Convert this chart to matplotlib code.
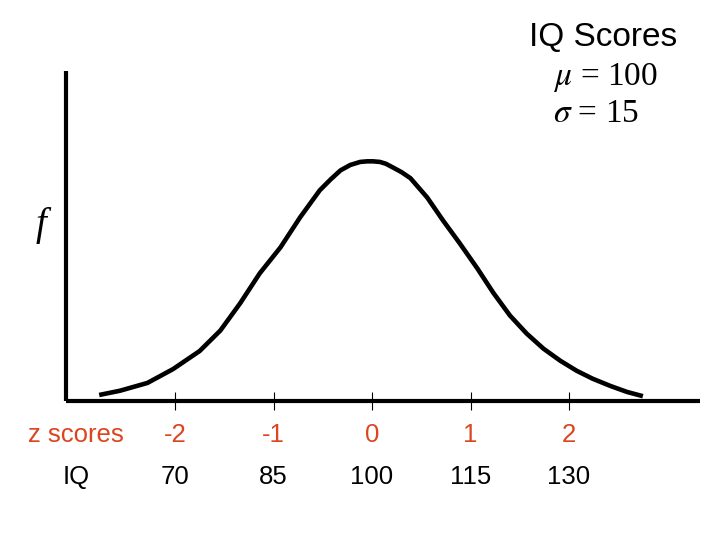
import matplotlib
matplotlib.use("Agg")
import matplotlib.pyplot as plt

plt.rcParams['font.family'] = ['Liberation Sans', 'DejaVu Sans']
plt.rcParams['mathtext.fontset'] = 'stix'

# curve: z position and relative height
z_vals = [-2.77, -2.56, -2.28, -2.02, -1.75, -1.54, -1.34, -1.14, -0.93, -0.73,
          -0.53, -0.42, -0.32, -0.22, -0.12, -0.05, 0.01, 0.08, 0.14, 0.21,
          0.30, 0.39, 0.56, 0.72, 0.89, 1.07,
          1.23, 1.40, 1.57, 1.74, 1.91, 2.08, 2.24, 2.42, 2.59, 2.75]
f_vals = [0.010, 0.017, 0.030, 0.053, 0.083, 0.117, 0.162, 0.212, 0.255, 0.305,
          0.350, 0.368, 0.383, 0.392, 0.397, 0.398, 0.398, 0.397, 0.394, 0.388,
          0.380, 0.370, 0.338, 0.300, 0.262, 0.220,
          0.180, 0.142, 0.112, 0.087, 0.067, 0.050, 0.037, 0.025, 0.015, 0.008]

z_ticks = [-2, -1, 0, 1, 2]
z_labels = ['-2', '-1', '0', '1', '2']
iq_labels = ['70', '85', '100', '115', '130']

red = '#DB4520'

fig = plt.figure(figsize=(7.2, 5.4), dpi=100)
ax = fig.add_axes([66 / 720, 1 - 401 / 540, 634 / 720, 330 / 540])

ax.plot(z_vals, f_vals, color='black', linewidth=3.3,
        solid_joinstyle='round', solid_capstyle='butt')

ax.set_xlim(-3.107, 3.33)
ax.set_ylim(0, 0.548)

for side in ['top', 'right']:
    ax.spines[side].set_visible(False)
for side in ['left', 'bottom']:
    ax.spines[side].set_linewidth(3.0)
    ax.spines[side].set_capstyle('butt')

ax.set_yticks([])
ax.set_xticks(z_ticks)
ax.set_xticklabels([])
ax.tick_params(axis='x', direction='inout', length=13, width=0.8, color='black')

# tick label rows
for z, zl, iq in zip(z_ticks, z_labels, iq_labels):
    ax.annotate(zl, xy=(z, 0), xycoords=('data', 'axes fraction'),
                xytext=(0, -34), textcoords='offset pixels',
                ha='center', va='center', fontsize=18.5, color=red)
    ax.annotate(iq, xy=(z, 0), xycoords=('data', 'axes fraction'),
                xytext=(0, -76), textcoords='offset pixels',
                ha='center', va='center', fontsize=18.5, color='black')

fig.text(76 / 720, 1 - 435 / 540, 'z scores', ha='center', va='center',
         fontsize=18.5, color=red)
fig.text(76 / 720, 1 - 477 / 540, 'IQ', ha='center', va='center',
         fontsize=18.5, color='black')

fig.text(41 / 720, 1 - 226 / 540, 'f', ha='center', va='center',
         fontsize=28, family='Liberation Serif', style='italic')

fig.text(603 / 720, 1 - 37 / 540, 'IQ Scores', ha='center', va='center',
         fontsize=24, color='black')
fig.text(553 / 720, 1 - 77 / 540, r'$\mu$ = 100', ha='left', va='center',
         fontsize=24, family='Liberation Serif')
fig.text(553 / 720, 1 - 114 / 540, r'$\sigma$ = 15', ha='left', va='center',
         fontsize=24, family='Liberation Serif')

fig.savefig('out.png', dpi=100)
